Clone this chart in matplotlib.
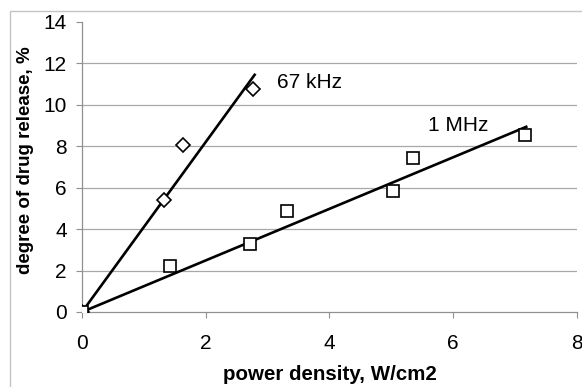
import matplotlib.pyplot as plt
from matplotlib.patches import Rectangle

# 67 kHz (diamonds)
x_67 = [0, 1.33, 1.63, 2.77]
y_67 = [0, 5.4, 8.07, 10.77]
fit_x_67 = [0, 2.79]
fit_y_67 = [0, 11.45]

# 1 MHz (squares)
x_1m = [0, 1.42, 2.71, 3.31, 5.02, 5.35, 7.16]
y_1m = [0, 2.22, 3.28, 4.88, 5.85, 7.44, 8.55]
fit_x_1m = [0, 7.18]
fit_y_1m = [0, 8.94]

xticks = [0, 2, 4, 6, 8]
yticks = [0, 2, 4, 6, 8, 10, 12, 14]

plt.rcParams['font.family'] = ['Liberation Sans', 'DejaVu Sans']

fig = plt.figure(figsize=(5.82, 3.87), dpi=100)
ax = fig.add_axes([0.1409, 0.1938, 0.8505, 0.7494])

# outer chart frame (only top and left edges visible)
fig.patches.append(Rectangle((10/582, -0.5), 2, 0.5 + 1 - 11/387,
                             transform=fig.transFigure, fill=False,
                             edgecolor='#c4c4c4', lw=1.0))

for yv in yticks[1:-1]:
    ax.axhline(yv, color='#a8a8a8', lw=0.9, zorder=0)

ax.plot(fit_x_67, fit_y_67, color='black', lw=1.9, zorder=3)
ax.plot(fit_x_1m, fit_y_1m, color='black', lw=1.9, zorder=3)
ax.plot(x_67, y_67, ls='none', marker='D', ms=7.5, mfc='white', mec='black', mew=1.2, zorder=4)
ax.plot(x_1m, y_1m, ls='none', marker='s', ms=8.5, mfc='white', mec='black', mew=1.2, zorder=4)

ax.text(3.15, 11.06, '67 kHz', fontsize=15, va='center', ha='left')
ax.text(5.6, 8.98, '1 MHz', fontsize=15, va='center', ha='left')

ax.set_xlim(0, 8)
ax.set_ylim(0, 14)
ax.set_xticks(xticks)
ax.set_yticks(yticks)
ax.tick_params(labelsize=15, length=4, width=0.8, color='#909090', pad=7)
ax.tick_params(axis='x', pad=12)
for s in ['top', 'right']:
    ax.spines[s].set_visible(False)
for s in ['left', 'bottom']:
    ax.spines[s].set_color('#909090')
    ax.spines[s].set_linewidth(0.9)

fig.text(330/582, 1 - 374/387, 'power density, W/cm2', fontsize=14.8,
         fontweight='bold', ha='center', va='center')
fig.text(26/582, 1 - 160/387, 'degree of drug release, %', fontsize=13.5,
         fontweight='bold', ha='center', va='center', rotation=90)

fig.savefig('out.png', dpi=100)
